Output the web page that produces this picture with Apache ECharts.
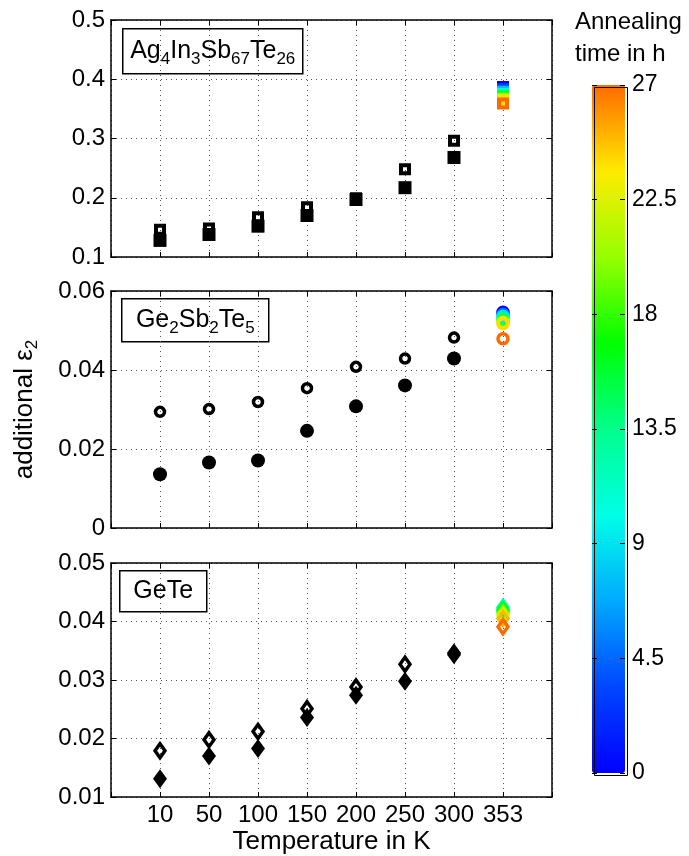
<!DOCTYPE html>
<html><head><meta charset="utf-8">
<script src="https://cdn.jsdelivr.net/npm/echarts@6/dist/echarts.min.js"></script>
<style>html,body{margin:0;padding:0;background:#fff}#c{width:689px;height:856px}</style>
</head><body><div id="c"></div>
<script>
// ---------- data ----------
const tempLabels = ['10', '50', '100', '150', '200', '250', '300', '353'];

// Ag4In3Sb67Te26 (squares)
const aistFilled = [0.128, 0.138, 0.152, 0.170, 0.197, 0.217, 0.268];
const aistOpen   = [0.146, 0.148, 0.167, 0.184, 0.199, 0.248, 0.296];
const aistAnnealTime = [0, 3, 7.5, 12, 16, 20, 24, 27];
const aistAnnealVal  = [0.387, 0.383, 0.379, 0.375, 0.371, 0.367, 0.364, 0.359];

// Ge2Sb2Te5 (circles)
const gstFilled = [0.0136, 0.0166, 0.0171, 0.0246, 0.0308, 0.0361, 0.0429];
const gstOpen   = [0.0294, 0.0301, 0.0319, 0.0354, 0.0408, 0.0429, 0.0482];
const gstAnnealTime = [0, 4.5, 9, 13.5, 18, 22.5, 24, 27];
const gstAnnealVal  = [0.0546, 0.0541, 0.0536, 0.0530, 0.0524, 0.0520, 0.0517, 0.0479];

// GeTe (diamonds)
const geteFilled = [0.0131, 0.0170, 0.0183, 0.0236, 0.0274, 0.0298, 0.0343];
const geteOpen   = [0.0179, 0.0198, 0.0212, 0.0251, 0.0288, 0.0327, 0.0346];
const geteAnnealTime = [12, 14.5, 17, 19.5, 22.5, 25, 27];
const geteAnnealVal  = [0.0424, 0.0421, 0.0418, 0.0414, 0.0410, 0.0405, 0.0391];

// colour bar
const annealMin = 0, annealMax = 27, annealStep = 4.5;
const colorStops = ['#0000ff', '#0046ff', '#00aaff', '#00ffe6', '#00ff8c', '#00ff00', '#96ff00', '#ffeb00', '#ff6a00'];

// ---------- chart ----------
const FONT = '"Liberation Sans", Arial, Helvetica, sans-serif';
const chart = echarts.init(document.getElementById('c'), null, { renderer: 'canvas' });

const pos353 = tempLabels.indexOf('353') + 1;
const colorFor = t => echarts.color.lerp((t - annealMin) / (annealMax - annealMin), colorStops);
const xy = arr => arr.map((v, i) => [i + 1, v]);
const annealData = (times, vals) => times.map((t, i) => ({ value: [pos353, vals[i], t], itemStyle: { borderColor: colorFor(t) } }));

const panels = [
  { top: 20, height: 237, min: 0.1, max: 0.5, interval: 0.1 },
  { top: 291, height: 237, min: 0, max: 0.06, interval: 0.02 },
  { top: 563, height: 236, min: 0.01, max: 0.05, interval: 0.01 }
];

const axisLine = { show: true, onZero: false, lineStyle: { color: '#000', width: 1.5 } };
const tick = { show: true, inside: true, length: 5, lineStyle: { color: '#000', width: 1 } };
const dotted = { show: true, lineStyle: { color: '#555', width: 1, type: [1, 4] } };

const grid = [], xAxis = [], yAxis = [];
panels.forEach((p, gi) => {
  grid.push({ left: 111, top: p.top, width: 441, height: p.height, show: false });
  const last = gi === panels.length - 1;
  xAxis.push({
    gridIndex: gi, type: 'value', position: 'bottom', min: 0, max: tempLabels.length + 1, interval: 1,
    axisLine, axisTick: tick, splitLine: dotted,
    axisLabel: {
      show: last, color: '#000', fontSize: 24, fontFamily: FONT, margin: 6,
      formatter: v => (v >= 1 && v <= tempLabels.length) ? tempLabels[v - 1] : ''
    },
    name: last ? 'Temperature in K' : '', nameLocation: 'middle', nameGap: 32,
    nameTextStyle: { color: '#000', fontSize: 26, fontFamily: FONT }
  });
  xAxis.push({
    gridIndex: gi, type: 'value', position: 'top', min: 0, max: tempLabels.length + 1, interval: 1,
    axisLine, axisTick: tick, splitLine: { show: false }, axisLabel: { show: false }
  });
  const yl = {
    gridIndex: gi, type: 'value', position: 'left', min: p.min, max: p.max, interval: p.interval,
    axisLine, axisTick: tick, splitLine: dotted,
    axisLabel: { color: '#000', fontSize: 24, fontFamily: FONT, margin: 6 }
  };
  if (gi === 1) {
    yl.name = '{n|additional ε}{s|2}';
    yl.nameLocation = 'middle';
    yl.nameRotate = 90;
    yl.nameGap = 70;
    yl.nameTextStyle = {
      rich: {
        n: { fontSize: 26, lineHeight: 32, fontFamily: FONT, color: '#000' },
        s: { fontSize: 17, lineHeight: 17, verticalAlign: 'bottom', fontFamily: FONT, color: '#000' }
      }
    };
  }
  yAxis.push(yl);
  yAxis.push({
    gridIndex: gi, type: 'value', position: 'right', min: p.min, max: p.max, interval: p.interval,
    axisLine, axisTick: tick, splitLine: { show: false }, axisLabel: { show: false }
  });
});

// colour bar axes
grid.push({ left: 592, top: 85, width: 33, height: 688, show: false });
xAxis.push({ gridIndex: 3, type: 'value', min: 0, max: 1, show: false });
yAxis.push({
  gridIndex: 3, type: 'value', position: 'right', min: annealMin, max: annealMax, interval: annealStep, z: 10,
  axisLine: { show: false, onZero: false }, axisTick: { show: true, inside: true, length: 5, lineStyle: { color: '#000' } },
  splitLine: { show: false }, axisLabel: { color: '#000', fontSize: 23, fontFamily: FONT, margin: 7 }
});
yAxis.push({
  gridIndex: 3, type: 'value', position: 'left', min: annealMin, max: annealMax, interval: annealStep, z: 10,
  axisLine: { show: false, onZero: false }, axisTick: { show: true, inside: true, length: 5, lineStyle: { color: '#000' } },
  splitLine: { show: false }, axisLabel: { show: false }
});

const hollow = (w) => ({ color: 'rgba(0,0,0,0)', borderColor: '#000', borderWidth: w, opacity: 1 });
const solid = { color: '#000', opacity: 1 };
const series = [
  { type: 'scatter', xAxisIndex: 0, yAxisIndex: 0, symbol: 'rect', symbolSize: 8, itemStyle: hollow(4), data: xy(aistOpen) },
  { type: 'scatter', xAxisIndex: 0, yAxisIndex: 0, symbol: 'rect', symbolSize: 13, itemStyle: solid, data: xy(aistFilled) },
  { type: 'scatter', xAxisIndex: 0, yAxisIndex: 0, symbol: 'rect', symbolSize: 8, itemStyle: { color: 'rgba(0,0,0,0)', borderWidth: 4, opacity: 1 }, data: annealData(aistAnnealTime, aistAnnealVal) },

  { type: 'scatter', xAxisIndex: 2, yAxisIndex: 2, symbol: 'circle', symbolSize: 9, itemStyle: hollow(3.5), data: xy(gstOpen) },
  { type: 'scatter', xAxisIndex: 2, yAxisIndex: 2, symbol: 'circle', symbolSize: 14, itemStyle: solid, data: xy(gstFilled) },
  { type: 'scatter', xAxisIndex: 2, yAxisIndex: 2, symbol: 'circle', symbolSize: 10, itemStyle: { color: 'rgba(0,0,0,0)', borderWidth: 3.5, opacity: 1 }, data: annealData(gstAnnealTime, gstAnnealVal) },

  { type: 'scatter', xAxisIndex: 4, yAxisIndex: 4, symbol: 'diamond', symbolSize: [10, 14], itemStyle: hollow(3.5), data: xy(geteOpen) },
  { type: 'scatter', xAxisIndex: 4, yAxisIndex: 4, symbol: 'diamond', symbolSize: [14, 19], itemStyle: solid, data: xy(geteFilled) },
  { type: 'scatter', xAxisIndex: 4, yAxisIndex: 4, symbol: 'diamond', symbolSize: [10, 14], itemStyle: { color: 'rgba(0,0,0,0)', borderWidth: 3.5, opacity: 1 }, data: annealData(geteAnnealTime, geteAnnealVal) },

  { type: 'scatter', xAxisIndex: 6, yAxisIndex: 6, data: [] }
];
series.forEach(s => { s.silent = true; s.animation = false; });

const richSub = {
  n: { fontSize: 25, lineHeight: 34, fontFamily: FONT, color: '#000' },
  s: { fontSize: 17, lineHeight: 17, verticalAlign: 'bottom', fontFamily: FONT, color: '#000' }
};
const labelBox = (left, top, w, h, text) => ({
  type: 'group', left, top, z: 50,
  children: [
    { type: 'rect', shape: { x: 0, y: 0, width: w, height: h }, style: { fill: '#fff', stroke: '#000', lineWidth: 1.5 } },
    { type: 'text', x: w / 2, y: h / 2, style: { text, rich: richSub, align: 'center', verticalAlign: 'middle' } }
  ]
});

const option = {
  backgroundColor: '#fff',
  animation: false,
  grid, xAxis, yAxis, series,
  visualMap: {
    type: 'continuous', min: annealMin, max: annealMax, calculable: false, orient: 'vertical',
    left: 592, top: 85, itemWidth: 33, itemHeight: 688, padding: 0,
    inRange: { color: colorStops }, seriesIndex: 9, hoverLink: false
  },
  graphic: [
    labelBox(122, 28, 180, 45, '{n|Ag}{s|4}{n|In}{s|3}{n|Sb}{s|67}{n|Te}{s|26}'),
    labelBox(121, 298, 147, 43, '{n|Ge}{s|2}{n|Sb}{s|2}{n|Te}{s|5}'),
    labelBox(119, 570, 87, 41, '{n|GeTe}'),
    { type: 'rect', left: 592, top: 85, z: 60, shape: { width: 33, height: 688 }, style: { fill: 'none', stroke: '#000', lineWidth: 1 } },
    { type: 'text', x: 575, y: 22, style: { text: 'Annealing', fontSize: 24, fontFamily: FONT, fill: '#000', verticalAlign: 'middle' } },
    { type: 'text', x: 575, y: 54, style: { text: 'time in h', fontSize: 24, fontFamily: FONT, fill: '#000', verticalAlign: 'middle' } }
  ]
};
chart.setOption(option);
</script>
</body></html>
